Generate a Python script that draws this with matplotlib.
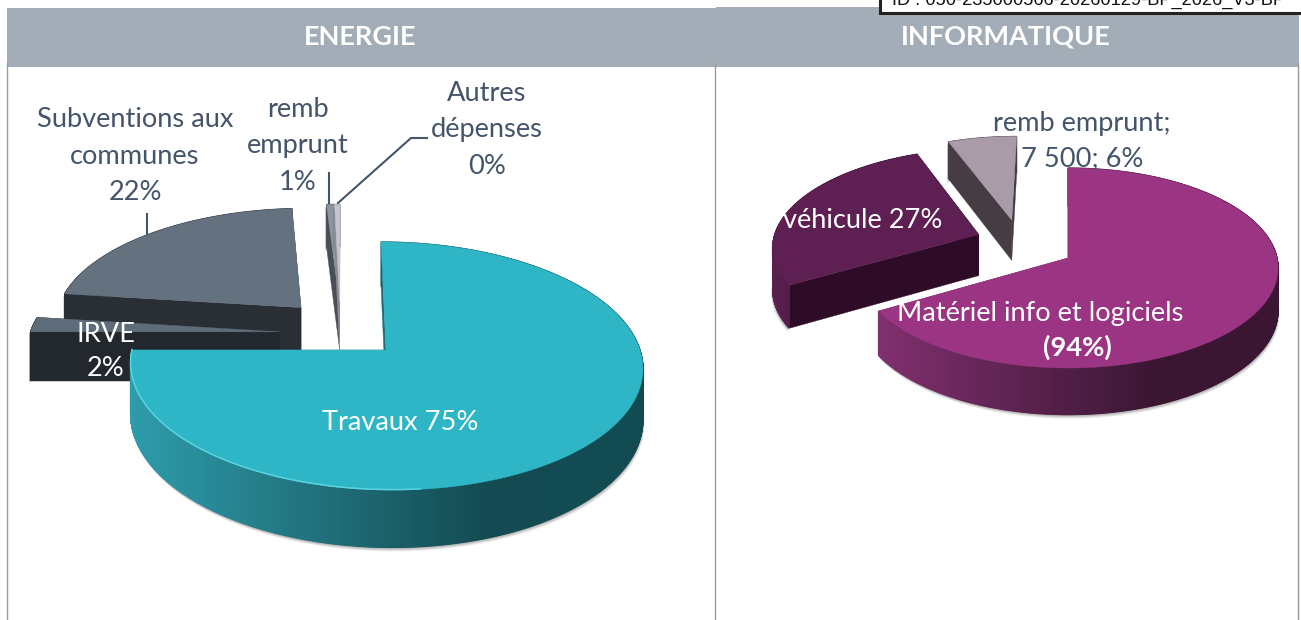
import numpy as np
import matplotlib
matplotlib.use("Agg")
import matplotlib.pyplot as plt
from matplotlib.colors import to_rgb
from matplotlib.patches import Rectangle

# valeurs (part du camembert en %)
energie_noms = ["Travaux", "IRVE", "Subventions aux communes", "remb emprunt", "Autres dépenses"]
energie_valeurs = [75, 2, 22, 0.6, 0.4]
info_noms = ["Matériel info et logiciels", "véhicule", "remb emprunt"]
info_valeurs = [66.5, 27.5, 6]

TEXTE = "#44546A"
BANDEAU = "#A2ADB7"
POLICE = "Lato"

# reglages des tranches : eclatement, direction, couleurs
energie_style = {
    "centre": (386, 350), "rx": 254, "ry": 122, "k": 0.129, "biais": -5.6, "prof": 50,
    "eclate": [0, 0.45, 0.50, 0.45, 0.45],
    "direction": [0, 289.7, 316.8, 336, 336],
    "dessus": ["#2EB6C6", "#5F6D7A", "#64727F", "#8D969F", "#C3C7CB"],
    "cote": ["#1D6E79", "#23282F", "#2A2F36", "#4A4E55", "#8A8E94"],
    "arc": [("#2E9CAB", "#134B52"), ("#23282F", "#23282F"), ("#2A2F36", "#2A2F36"),
            ("#4A4E55", "#4A4E55"), ("#8A8E94", "#8A8E94")],
    "reflet": ["#5AD3E0", None, None, None, None],
}
info_style = {
    "centre": (1068, 258), "rx": 209, "ry": 99, "k": 0.1, "biais": 0, "prof": 42,
    "eclate": [0, 0.50, 0.488],
    "direction": [0, 299, 325],
    "dessus": ["#9A3483", "#5E1F52", "#A99BA7"],
    "cote": ["#6A2A5E", "#2E0C27", "#463D44"],
    "arc": [("#80306F", "#3A1633"), ("#5A2050", "#2E0C27"), ("#463D44", "#463D44")],
    "reflet": [None, None, None],
}


def projette(style, u, v, z=0.0):
    cx, cy = style["centre"]
    d = 1 + style["k"] * v
    x = cx + (style["rx"] * u + style["biais"] * v) / d
    y = cy + (-style["ry"] * v + style["prof"] * z) / d
    return x, y


def dessine_camembert(ax, valeurs, style):
    valeurs = np.array(valeurs, dtype=float)
    fins = np.cumsum(valeurs) / valeurs.sum() * 360
    debuts = np.concatenate([[0], fins[:-1]])

    offsets = []
    for e, a in zip(style["eclate"], style["direction"]):
        offsets.append((e * np.sin(np.radians(a)), e * np.cos(np.radians(a))))

    # on peint du fond vers l'avant
    ordre = sorted(range(len(valeurs)), key=lambda i: -offsets[i][1])
    for i in ordre:
        ou, ov = offsets[i]
        t = np.radians(np.linspace(debuts[i], fins[i], max(12, int(3 * (fins[i] - debuts[i])))))
        u = np.sin(t) + ou
        v = np.cos(t) + ov
        xh, yh = projette(style, u, v)
        xb, yb = projette(style, u, v, 1)
        x0, y0 = projette(style, ou, ov)
        x1, y1 = projette(style, ou, ov, 1)

        # ombre douce sous la tranche
        for dec, alpha in [(4, 0.10), (3, 0.14), (2, 0.18), (1, 0.22)]:
            ax.fill(np.concatenate([xh, xb[::-1]]) + 0.4 * dec * np.sign(xb.mean() - x0),
                    np.concatenate([yh, yb[::-1]]) + dec,
                    color="#555555", alpha=alpha, lw=0, zorder=2)

        # faces radiales
        for k in [0, -1]:
            ax.fill([x0, xh[k], xb[k], x1], [y0, yh[k], yb[k], y1],
                    color=style["cote"][i], lw=0.3, zorder=2)

        # paroi de l'arc avec degrade
        c1 = np.array(to_rgb(style["arc"][i][0]))
        c2 = np.array(to_rgb(style["arc"][i][1]))
        xmin, xmax = xb.min(), xb.max()
        for j in range(len(t) - 1):
            f = (xb[j] - xmin) / max(xmax - xmin, 1)
            f = np.clip(f * 1.45, 0, 1)
            col = c1 + (c2 - c1) * f
            ax.fill([xh[j], xh[j + 1], xb[j + 1], xb[j]], [yh[j], yh[j + 1], yb[j + 1], yb[j]],
                    color=col, lw=0.8, zorder=2)

        # dessus
        ax.fill(np.concatenate([[x0], xh]), np.concatenate([[y0], yh]),
                color=style["dessus"][i], lw=0.3, zorder=2)
        if style["reflet"][i]:
            front = (v < 0.05) & (u < 0.1)
            ax.plot(xh[front], yh[front] - 0.5, color=style["reflet"][i], lw=1.1, zorder=2)


fig = plt.figure(figsize=(13.01, 6.2), dpi=100)
ax = fig.add_axes([0, 0, 1, 1])
ax.set_xlim(0, 1301)
ax.set_ylim(620, 0)
ax.axis("off")

# tableau
ax.add_patch(Rectangle((7, 8), 709, 59, color=BANDEAU, lw=0, zorder=1))
ax.add_patch(Rectangle((716, 7), 583, 60, color=BANDEAU, lw=0, zorder=1))
for x in [7, 715, 1298]:
    ax.plot([x, x], [63, 620], color="#9C9C9C", lw=1, zorder=1)
ax.text(360, 37, "ENERGIE", color="white", fontsize=19.5, fontweight="bold", family=POLICE,
        ha="center", va="center", zorder=5)
ax.text(1006, 37, "INFORMATIQUE", color="white", fontsize=19.5, fontweight="bold", family=POLICE,
        ha="center", va="center", zorder=5)

# cartouche du haut, coupe par le bord de la page
ax.add_patch(Rectangle((879.5, -5), 430, 18, facecolor="white", edgecolor="#222222", lw=2.2, zorder=3))
ax.text(892, 5, "ID : 050-235000566-20260129-BP_2026_V3-BP", color="#111111", fontsize=13.15,
        family="Liberation Sans", ha="left", va="baseline", zorder=4, clip_on=True)

dessine_camembert(ax, energie_valeurs, energie_style)
dessine_camembert(ax, info_valeurs, info_style)

# traits de rappel
ax.plot([147, 147], [214, 234], color=TEXTE, lw=1.5, zorder=4)
ax.plot([329, 329], [173, 203], color=TEXTE, lw=1.5, zorder=4)
ax.plot([338, 411, 427], [203, 138, 138], color=TEXTE, lw=1.5, zorder=4)

# etiquettes
etiquettes = [
    (135, 156, "Subventions aux\ncommunes\n22%", TEXTE, 1.58),
    (298, 146, "remb\nemprunt\n1%", TEXTE, 1.58),
    (487, 130, "Autres\ndépenses\n0%", TEXTE, 1.58),
    (106, 352, "IRVE\n2%", "white", 1.45),
    (400, 423, "Travaux 75%", "white", 1.2),
    (1082, 141, "remb emprunt;\n7 500; 6%", TEXTE, 1.5),
    (863, 220, "véhicule 27%", "white", 1.2),
    (1040, 313, "Matériel info et logiciels", "white", 1.2),
]
for x, y, texte, couleur, interligne in etiquettes:
    ax.text(x, y, texte, color=couleur, fontsize=19.6, family=POLICE, ha="center", va="center",
            linespacing=interligne, zorder=5)
ax.text(1077, 347, "(94%)", color="white", fontsize=19.6, fontweight="bold", family=POLICE,
        ha="center", va="center", zorder=5)

fig.savefig("out.png", dpi=100)
